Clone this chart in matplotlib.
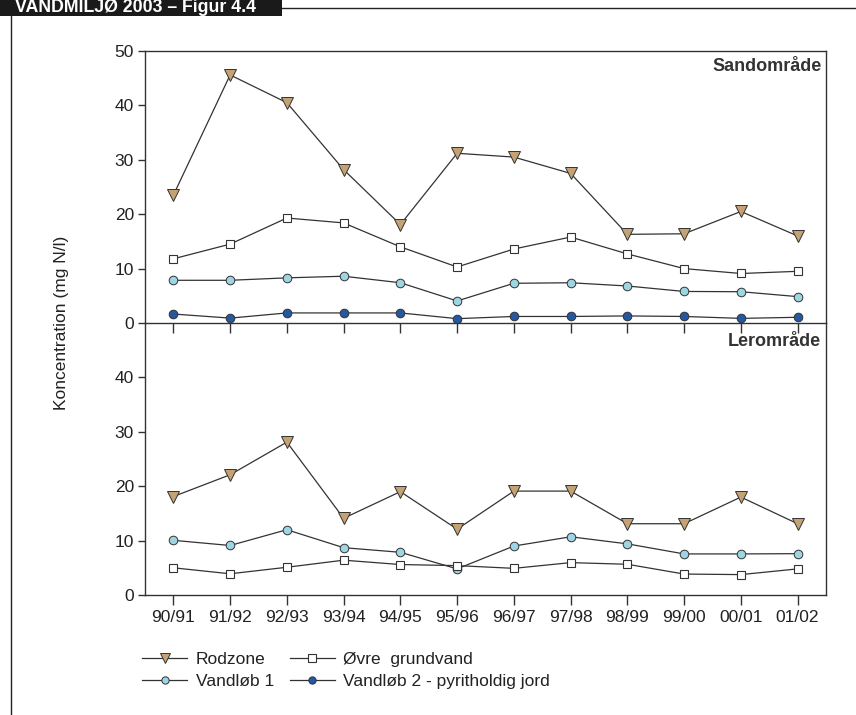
import matplotlib
matplotlib.use("Agg")
import matplotlib.pyplot as plt
from matplotlib.lines import Line2D
from matplotlib.patches import Rectangle

plt.rcParams['font.family'] = ['Liberation Sans', 'DejaVu Sans']

seasons = ["90/91", "91/92", "92/93", "93/94", "94/95", "95/96",
           "96/97", "97/98", "98/99", "99/00", "00/01", "01/02"]

# Sandområde (mg N/l)
sand_rodzone = [23.5, 45.6, 40.5, 28.2, 18.1, 31.2, 30.5, 27.5, 16.3, 16.4, 20.5, 16.0]
sand_oevre = [11.8, 14.5, 19.3, 18.4, 14.0, 10.3, 13.6, 15.8, 12.7, 10.0, 9.1, 9.5]
sand_vandloeb1 = [7.85, 7.85, 8.3, 8.6, 7.4, 4.05, 7.3, 7.4, 6.8, 5.8, 5.75, 4.85]
sand_vandloeb2 = [1.65, 0.9, 1.85, 1.85, 1.85, 0.8, 1.2, 1.2, 1.3, 1.2, 0.85, 1.05]

# Lerområde (mg N/l)
ler_rodzone = [18.1, 22.1, 28.1, 14.1, 19.0, 12.1, 19.1, 19.1, 13.1, 13.1, 18.0, 13.1]
ler_oevre = [5.0, 3.9, 5.1, 6.4, 5.6, 5.4, 4.9, 5.95, 5.65, 3.85, 3.75, 4.8]
ler_vandloeb1 = [10.05, 9.1, 12.0, 8.7, 7.85, 4.8, 9.0, 10.7, 9.4, 7.55, 7.55, 7.6]

labels = ["Rodzone", "Øvre  grundvand", "Vandløb 1", "Vandløb 2 - pyritholdig jord"]

ink = "#333333"
line_kw = dict(color=ink, lw=0.9)
styles = {
    "rodzone": dict(marker="v", ms=8, mfc="#c4a273", mec=ink, mew=0.7),
    "oevre": dict(marker="s", ms=6, mfc="white", mec=ink, mew=0.8),
    "v1": dict(marker="o", ms=6.2, mfc="#9dd5e2", mec=ink, mew=0.7),
    "v2": dict(marker="o", ms=6.2, mfc="#2358a2", mec=ink, mew=0.7),
}

W, H = 856, 715
fig = plt.figure(figsize=(W / 100, H / 100), dpi=100)

def px_axes(left, top, right, bottom):
    return fig.add_axes([left / W, 1 - bottom / H, (right - left) / W, (bottom - top) / H])

ax_top = px_axes(145, 51, 826, 323)
ax_bot = px_axes(145, 323, 826, 595)

x = list(range(len(seasons)))

ax_top.plot(x, sand_rodzone, **line_kw, **styles["rodzone"], zorder=3)
ax_top.plot(x, sand_oevre, **line_kw, **styles["oevre"], zorder=3)
ax_top.plot(x, sand_vandloeb1, **line_kw, **styles["v1"], zorder=3)
ax_top.plot(x, sand_vandloeb2, **line_kw, **styles["v2"], zorder=3)

ax_bot.plot(x, ler_rodzone, **line_kw, **styles["rodzone"], zorder=3)
ax_bot.plot(x, ler_vandloeb1, **line_kw, **styles["v1"], zorder=3)
ax_bot.plot(x, ler_oevre, **line_kw, **styles["oevre"], zorder=3)

for ax in (ax_top, ax_bot):
    ax.set_xlim(-0.5, 11.5)
    ax.set_ylim(0, 50)
    for s in ax.spines.values():
        s.set_color(ink)
        s.set_linewidth(1.0)
    ax.tick_params(axis="both", direction="out", colors=ink, width=1.0,
                   labelsize=12.5, labelcolor="#222222")
    ax.tick_params(axis="y", length=5, pad=3)
    ax.tick_params(axis="x", length=7, pad=4)
    ax.set_xticks(x)
    ax.patch.set_alpha(0)

ax_top.set_yticks([0, 10, 20, 30, 40, 50])
ax_top.set_xticklabels([])
ax_top.spines["bottom"].set_visible(False)

ax_bot.set_yticks([0, 10, 20, 30, 40])
ax_bot.set_xticklabels(seasons)
ax_bot.spines["top"].set_color(ink)

ax_top.text(0.993, 0.975, "Sandområde", transform=ax_top.transAxes, ha="right", va="top",
            fontsize=13, fontweight="bold", color="#333333")
ax_bot.text(0.993, 0.962, "Lerområde", transform=ax_bot.transAxes, ha="right", va="top",
            fontsize=13, fontweight="bold", color="#333333")

fig.text(62 / W, 1 - 323 / H, "Koncentration (mg N/l)", rotation=90,
         ha="center", va="center", fontsize=12.5, color="#222222")

# Legend
handles = [
    Line2D([], [], **line_kw, **styles["rodzone"]),
    Line2D([], [], **line_kw, **styles["v1"]),
    Line2D([], [], **line_kw, **styles["oevre"]),
    Line2D([], [], **line_kw, **styles["v2"]),
]
leg_labels = [labels[0], labels[2], labels[1], labels[3]]
fig.legend(handles, leg_labels, ncol=2, loc="upper left",
           bbox_to_anchor=(135 / W, 1 - 645 / H), frameon=False,
           fontsize=12.5, handlelength=2.6, handletextpad=0.5,
           columnspacing=0.9, labelspacing=0.38, borderaxespad=0,
           markerscale=0.85, labelcolor="#222222")

# Header band and frame lines
fig.add_artist(Rectangle((0, 1 - 16 / H), 282 / W, 16 / H, transform=fig.transFigure,
                         facecolor="#1a1a1a", edgecolor="none"))
fig.text(15 / W, 1 - 11.5 / H, "VANDMILJØ 2003 – Figur 4.4", ha="left", va="baseline",
         fontsize=12.8, fontweight="bold", color="white")
fig.add_artist(Line2D([282 / W, 1], [1 - 7.5 / H, 1 - 7.5 / H], transform=fig.transFigure,
                      color="#222222", lw=1.0))
fig.add_artist(Line2D([10.5 / W, 10.5 / W], [0, 1 - 16 / H], transform=fig.transFigure,
                      color="#222222", lw=1.0))

fig.savefig("out.png", dpi=100)
